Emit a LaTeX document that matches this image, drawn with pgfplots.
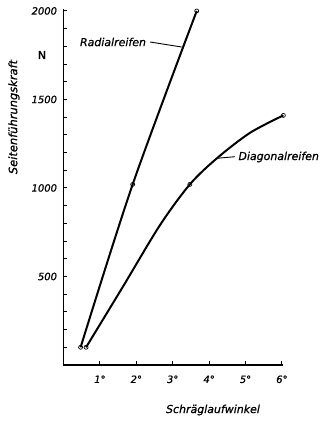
\documentclass[border=0pt]{standalone}
\usepackage{fontspec}
\setmainfont{DejaVu Sans}[FakeBold=0.8]
\usepackage{pgfplots}
\pgfplotsset{compat=1.18}
\begin{document}
\begin{tikzpicture}[x=1bp,y=1bp]
\useasboundingbox (-63.5bp,-59bp) rectangle (256.5bp,365bp);
\begin{axis}[
  at={(0,0)}, anchor=origin,
  scale only axis, width=219.5bp, height=356bp,
  xmin=0, xmax=6.03, ymin=0, ymax=2011,
  axis x line=bottom, axis y line=left,
  axis line style={-, line width=1.4bp},
  clip=false,
  xtick={1,2,3,4,5,6},
  xticklabels={1°,2°,3°,4°,5°,6°},
  ytick={500,1000,1500,2000},
  minor ytick={100,200,300,400,600,700,800,900,1100,1200,1300,1400,1600,1700,1800,1900},
  tick align=inside,
  major tick length=4bp, minor tick length=4bp,
  tick style={black, line width=1bp},
  /pgf/number format/assume math mode=true,
  /pgf/number format/1000 sep={},
  ticklabel style={font=\fontsize{10}{12}\selectfont\itshape},
  xticklabel style={yshift=-7bp},
  yticklabel style={xshift=-3bp},
]
% Radialreifen
\addplot[black, line width=2bp, smooth, tension=0.5] coordinates {
  (0.47,100) (1.9,1020) (3.66,2000)
};
\addplot[only marks, mark=o, mark size=2bp, mark options={fill=white, line width=0.7bp}] coordinates {
  (0.47,100) (1.9,1020) (3.66,2000)
};
% Diagonalreifen
\addplot[black, line width=2bp, smooth, tension=0.5] coordinates {
  (0.62,100) (1.64,445) (2.65,790) (3.47,1020) (4.21,1167) (5.12,1311) (6.04,1410)
};
\addplot[only marks, mark=o, mark size=2bp, mark options={fill=white, line width=0.7bp}] coordinates {
  (0.62,100) (3.47,1020) (6.04,1410)
};
\end{axis}
\node[font=\fontsize{11}{13}\selectfont] at (-21.5,310) {N};
\node[rotate=90, font=\fontsize{11.5}{13}\selectfont\itshape] at (-49.5,248) {Seitenführungskraft};
\node[font=\fontsize{11}{13}\selectfont\itshape] at (149.5,-45) {Schräglaufwinkel};
\node[font=\fontsize{11}{13}\selectfont\itshape] at (49.5,323) {Radialreifen};
\draw[line width=0.9bp] (86.5,323) -- (118.2,318);
\node[font=\fontsize{11}{13}\selectfont\itshape, anchor=west] at (171.5,208) {Diagonalreifen};
\draw[line width=0.9bp] (153.2,206.7) -- (171.5,208.3);
\end{tikzpicture}
\end{document}
